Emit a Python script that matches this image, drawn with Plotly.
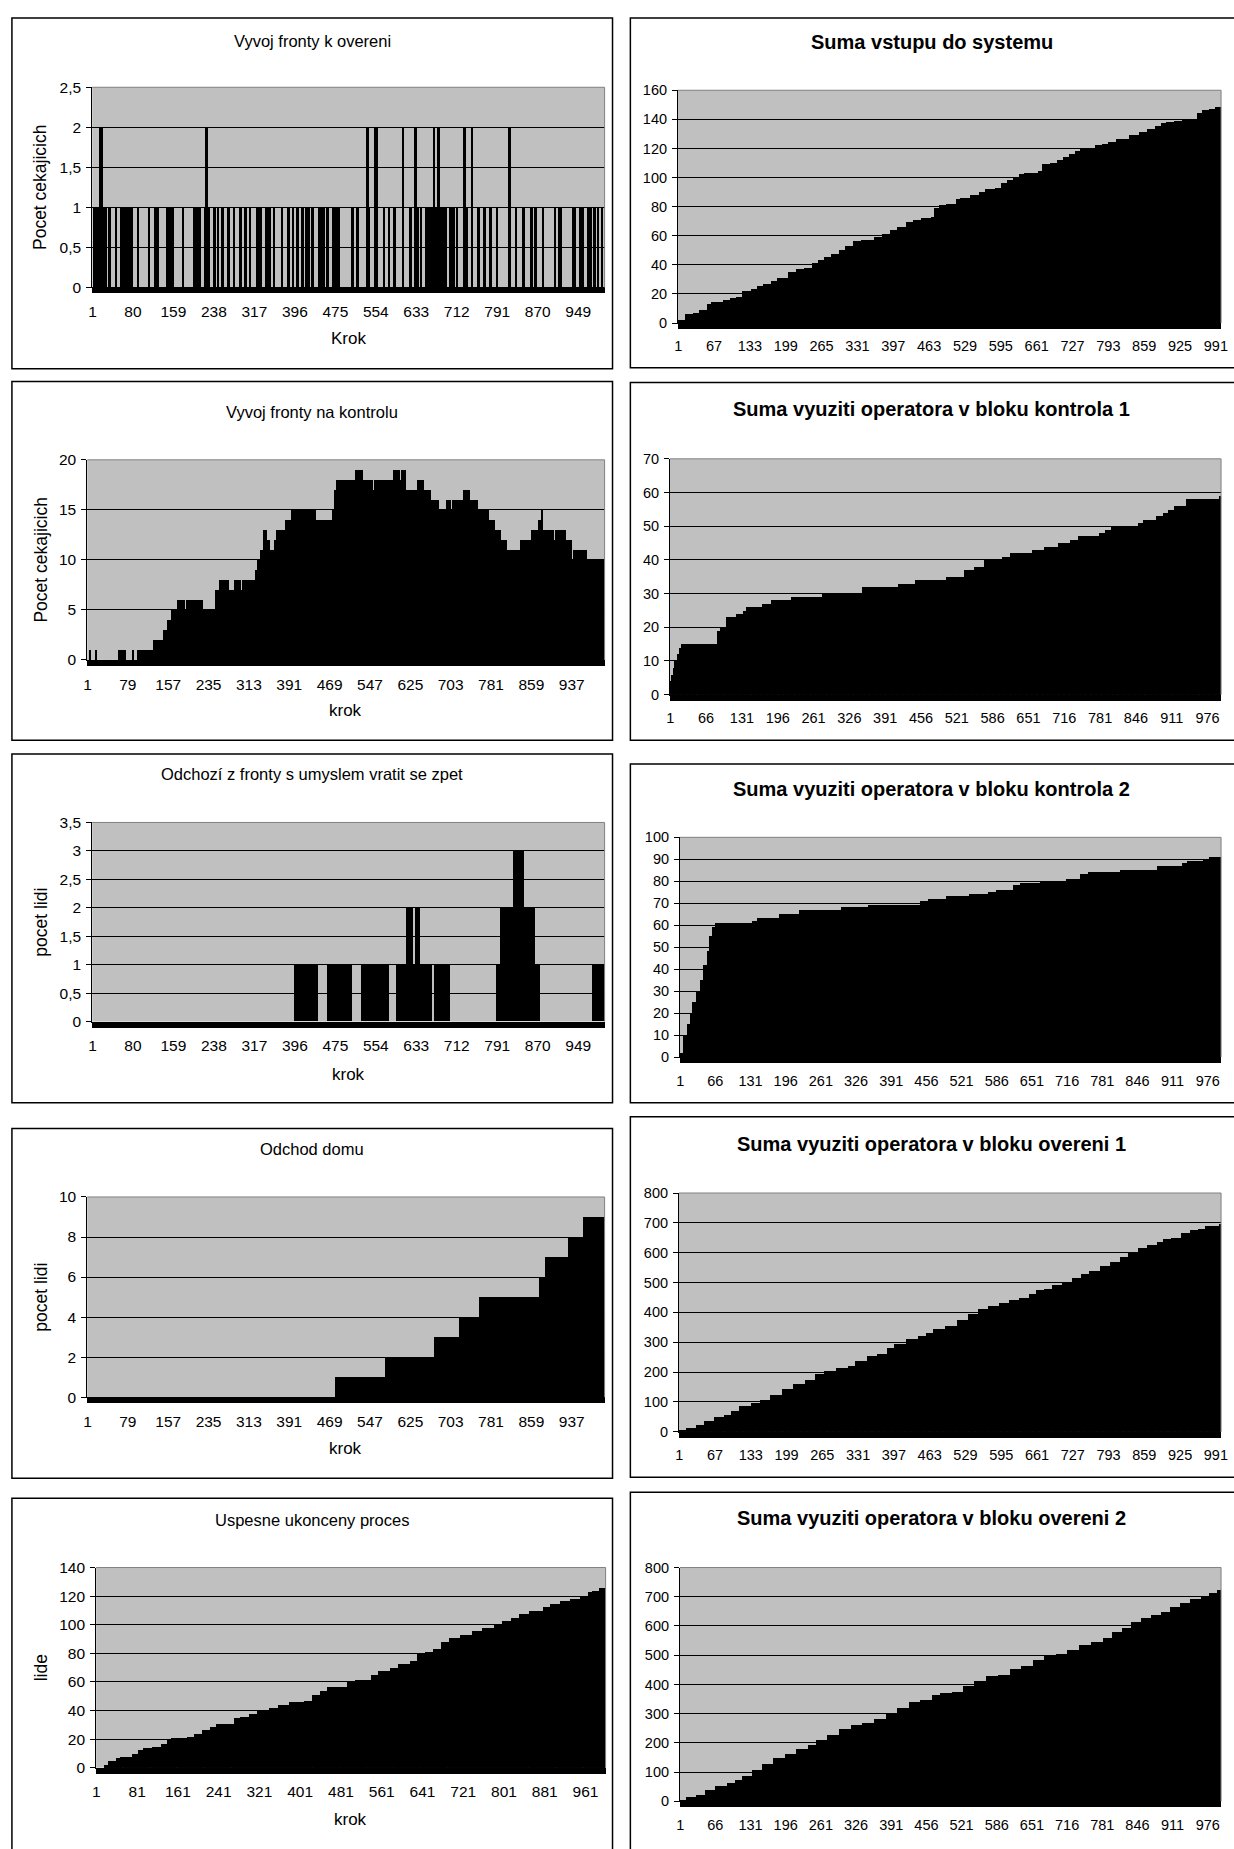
import numpy as np
import plotly.graph_objects as go

N = 1000
krok = np.arange(1, N + 1)  # categories: step numbers 1..1000

# ---------------- data ----------------
# 1) Vyvoj fronty k overeni : short spikes (start step, length, value)
q1_start = [4, 10, 16, 22, 27, 33, 46, 56, 60, 64, 67, 71, 77, 89, 111, 123, 127, 146, 151, 157,
            177, 199, 203, 209, 220, 222, 227, 239, 245, 254, 266, 277, 289, 299, 308, 322, 327, 340,
            346, 355, 370, 383, 392, 401, 409, 418, 422, 430, 444, 447, 451, 459, 470, 474, 480, 508,
            518, 537, 540, 552, 554, 556, 569, 579, 590, 606, 621, 631, 636, 642, 651, 655, 659, 664,
            667, 669, 673, 676, 680, 684, 689, 699, 705, 712, 726, 731, 741, 754, 766, 777, 790, 814,
            827, 842, 857, 865, 880, 903, 911, 915, 938, 941, 953, 957, 968, 972, 980, 987, 995]
q1_len = [3, 3, 6, 3, 3, 4, 3, 3, 3, 3, 4, 3, 3, 3, 3, 3, 3, 3, 3, 3,
          3, 3, 3, 3, 2, 5, 3, 3, 3, 3, 3, 3, 3, 3, 3, 3, 4, 3,
          4, 3, 3, 3, 3, 3, 4, 3, 3, 3, 3, 4, 3, 3, 4, 4, 5, 3,
          3, 3, 3, 2, 2, 3, 3, 3, 3, 3, 3, 3, 3, 3, 4, 4, 4, 3,
          2, 4, 3, 4, 4, 4, 3, 3, 3, 3, 3, 3, 3, 3, 3, 3, 3, 3,
          3, 3, 3, 3, 3, 3, 3, 3, 3, 3, 3, 3, 3, 3, 3, 3, 3]
q1_val = [1, 1, 2, 1, 1, 1, 1, 1, 1, 1, 1, 1, 1, 1, 1, 1, 1, 1, 1, 1,
          1, 1, 1, 1, 1, 2, 1, 1, 1, 1, 1, 1, 1, 1, 1, 1, 1, 1,
          1, 1, 1, 1, 1, 1, 1, 1, 1, 1, 1, 1, 1, 1, 1, 1, 1, 1,
          1, 2, 1, 2, 1, 2, 1, 1, 1, 2, 1, 2, 1, 1, 1, 1, 1, 1,
          2, 1, 1, 2, 1, 1, 1, 1, 1, 1, 2, 1, 2, 1, 1, 1, 1, 2,
          1, 1, 1, 1, 1, 1, 1, 1, 1, 1, 1, 1, 1, 1, 1, 1, 1]

# Remaining series: (step where value changes, new value)
q2_changes = [(1, 0), (6, 1), (8, 0), (18, 1), (20, 0), (61, 1), (76, 0), (88, 1), (90, 0), (99, 1),
              (129, 2), (148, 3), (156, 4), (165, 5), (175, 6), (190, 5), (193, 6), (224, 5), (250, 7),
              (258, 8), (275, 7), (286, 8), (298, 7), (301, 8), (326, 9), (331, 10), (337, 11), (343, 13),
              (348, 12), (354, 11), (363, 12), (367, 13), (384, 14), (396, 15), (443, 14), (476, 15),
              (480, 17), (484, 18), (520, 19), (533, 18), (552, 17), (556, 18), (594, 19), (605, 18),
              (609, 19), (616, 17), (639, 18), (652, 17), (665, 16), (680, 15), (695, 16), (703, 15),
              (707, 16), (729, 17), (741, 16), (756, 15), (778, 14), (788, 13), (801, 12), (812, 11),
              (839, 12), (861, 13), (873, 14), (879, 15), (882, 13), (903, 12), (907, 13), (926, 12),
              (937, 10), (941, 11), (967, 10)]

q3_changes = [(1, 0), (396, 1), (442, 0), (461, 1), (508, 0), (526, 1), (580, 0), (595, 1), (614, 2),
              (626, 1), (633, 2), (641, 1), (663, 0), (669, 1), (699, 0), (790, 1), (799, 2), (824, 3),
              (843, 2), (864, 1), (875, 0), (977, 1)]

q4_changes = [(1, 0), (482, 1), (578, 2), (673, 3), (721, 4), (760, 5), (876, 6), (887, 7), (932, 8),
              (961, 9)]

q5_changes = [(1, 0), (17, 2), (26, 5), (42, 7), (49, 8), (72, 10), (84, 13), (95, 14), (111, 15),
              (130, 17), (142, 20), (149, 21), (180, 22), (195, 24), (211, 27), (226, 29), (238, 31),
              (272, 35), (284, 36), (303, 38), (318, 40), (341, 42), (360, 44), (380, 46), (410, 47),
              (426, 51), (441, 54), (456, 57), (495, 60), (510, 62), (541, 65), (556, 68), (579, 70),
              (595, 73), (618, 75), (633, 80), (648, 81), (664, 83), (679, 88), (695, 91), (717, 93),
              (740, 96), (760, 98), (783, 101), (798, 103), (817, 105), (833, 108), (852, 110),
              (879, 113), (894, 115), (913, 117), (933, 118), (952, 120), (967, 123), (975, 124),
              (990, 126)]

q6_changes = [(1, 2), (15, 6), (30, 7), (40, 9), (55, 13), (62, 14), (84, 16), (98, 17), (109, 18),
              (119, 22), (137, 23), (148, 25), (159, 27), (173, 29), (184, 31), (205, 35), (220, 37),
              (234, 38), (248, 41), (259, 43), (270, 45), (284, 47), (299, 50), (309, 53), (324, 56),
              (338, 57), (363, 59), (378, 61), (392, 64), (406, 66), (421, 69), (435, 71), (449, 72),
              (467, 73), (474, 79), (482, 81), (496, 82), (514, 85), (521, 86), (539, 88), (557, 90),
              (568, 92), (586, 93), (596, 96), (607, 98), (618, 100), (629, 102), (639, 103),
              (665, 104), (672, 109), (686, 110), (700, 112), (711, 114), (722, 116), (733, 118),
              (743, 120), (769, 122), (783, 123), (794, 124), (808, 126), (833, 129), (851, 131),
              (866, 133), (880, 135), (891, 137), (901, 138), (916, 139), (930, 140), (957, 144),
              (966, 146), (980, 147), (991, 148)]

q7_changes = [(1, 4), (4, 6), (7, 8), (10, 10), (14, 12), (19, 14), (22, 15), (87, 19), (92, 20),
              (103, 23), (122, 24), (135, 25), (140, 26), (168, 27), (186, 28), (221, 29), (277, 30),
              (351, 32), (415, 33), (446, 34), (503, 35), (536, 37), (554, 38), (571, 40), (605, 41),
              (619, 42), (658, 43), (680, 44), (706, 45), (728, 46), (742, 47), (781, 48), (792, 49),
              (802, 50), (851, 51), (860, 52), (883, 53), (896, 54), (906, 55), (917, 56), (939, 58),
              (998, 59)]

q8_changes = [(1, 2), (8, 10), (15, 15), (20, 20), (25, 25), (31, 30), (38, 35), (44, 42), (51, 48),
              (56, 55), (61, 59), (67, 61), (135, 62), (145, 63), (185, 65), (221, 67), (300, 68),
              (350, 69), (446, 71), (461, 72), (493, 73), (536, 74), (572, 75), (586, 76), (618, 78),
              (631, 79), (668, 80), (715, 81), (741, 83), (756, 84), (815, 85), (884, 87), (930, 88),
              (939, 89), (969, 90), (980, 91)]

q9_changes = [(1, 3), (15, 12), (33, 22), (48, 35), (66, 48), (84, 55), (98, 68), (112, 85), (134, 95),
              (152, 105), (170, 122), (191, 142), (213, 160), (234, 172), (252, 192), (270, 203),
              (292, 215), (313, 222), (327, 238), (349, 253), (367, 260), (385, 280), (399, 295),
              (421, 310), (442, 322), (457, 330), (471, 345), (492, 355), (514, 375), (535, 395),
              (553, 410), (571, 420), (593, 430), (611, 440), (629, 448), (647, 460), (661, 475),
              (675, 480), (690, 492), (708, 500), (726, 515), (744, 527), (758, 540), (779, 555),
              (797, 568), (815, 585), (830, 600), (848, 615), (865, 625), (883, 635), (894, 645),
              (909, 650), (927, 665), (944, 675), (959, 680), (973, 690), (998, 695)]

q10_changes = [(1, 5), (13, 18), (31, 25), (49, 40), (67, 55), (88, 65), (103, 75), (117, 90), (135, 110),
               (153, 130), (174, 150), (196, 165), (217, 180), (239, 195), (253, 210), (274, 230),
               (296, 250), (317, 262), (339, 270), (360, 285), (382, 300), (403, 320), (425, 340),
               (446, 350), (468, 365), (482, 372), (504, 375), (525, 395), (546, 415), (568, 430),
               (589, 435), (611, 455), (632, 465), (654, 485), (675, 500), (697, 505), (718, 520),
               (740, 535), (761, 548), (783, 560), (801, 580), (819, 595), (836, 615), (854, 630),
               (872, 640), (890, 650), (908, 665), (926, 680), (944, 695), (965, 700), (980, 715),
               (995, 725)]

# tick labels
x_ticks_79 = [1, 80, 159, 238, 317, 396, 475, 554, 633, 712, 791, 870, 949]
x_ticks_78 = [1, 79, 157, 235, 313, 391, 469, 547, 625, 703, 781, 859, 937]
x_ticks_80 = [1, 81, 161, 241, 321, 401, 481, 561, 641, 721, 801, 881, 961]
x_ticks_66 = [1, 67, 133, 199, 265, 331, 397, 463, 529, 595, 661, 727, 793, 859, 925, 991]
x_ticks_65 = [1, 66, 131, 196, 261, 326, 391, 456, 521, 586, 651, 716, 781, 846, 911, 976]

y_vals_1 = [0, 0.5, 1, 1.5, 2, 2.5]
y_text_1 = ["0", "0,5", "1", "1,5", "2", "2,5"]
y_vals_2 = [0, 5, 10, 15, 20]
y_vals_3 = [0, 0.5, 1, 1.5, 2, 2.5, 3, 3.5]
y_text_3 = ["0", "0,5", "1", "1,5", "2", "2,5", "3", "3,5"]
y_vals_4 = [0, 2, 4, 6, 8, 10]
y_vals_5 = [0, 20, 40, 60, 80, 100, 120, 140]
y_vals_6 = [0, 20, 40, 60, 80, 100, 120, 140, 160]
y_vals_7 = [0, 10, 20, 30, 40, 50, 60, 70]
y_vals_8 = [0, 10, 20, 30, 40, 50, 60, 70, 80, 90, 100]
y_vals_9 = [0, 100, 200, 300, 400, 500, 600, 700, 800]
y_vals_10 = [0, 100, 200, 300, 400, 500, 600, 700, 800]


def hold(changes):
    y = np.zeros(N)
    for s, v in changes:
        y[s - 1:] = v
    return y


def spikes(starts, lens, vals):
    y = np.zeros(N)
    for s, l, v in zip(starts, lens, vals):
        y[s - 1:s - 1 + l] = np.maximum(y[s - 1:s - 1 + l], v)
    return y


W, H = 1234, 1849
FONT = "Arial, Liberation Sans, sans-serif"

panels = [
    dict(y=spikes(q1_start, q1_len, q1_val), title="Vyvoj fronty k overeni", bold=False,
         xt="Krok", yt="Pocet cekajicich", xticks=x_ticks_79, yv=y_vals_1, ytxt=y_text_1,
         plot=(89, 606, 79, 281), border=(8, 614, 9, 363), ty=32, xty=333),
    dict(y=hold(q2_changes), title="Vyvoj fronty na kontrolu", bold=False,
         xt="krok", yt="Pocet cekajicich", xticks=x_ticks_78, yv=y_vals_2, ytxt=None,
         plot=(84, 606, 455, 657), border=(8, 614, 376, 738), ty=407, xty=708),
    dict(y=hold(q3_changes), title="Odchozí z fronty s umyslem vratit se zpet", bold=False,
         xt="krok", yt="pocet lidi", xticks=x_ticks_79, yv=y_vals_3, ytxt=y_text_3,
         plot=(89, 606, 821, 1022), border=(8, 614, 752, 1104), ty=772, xty=1075),
    dict(y=hold(q4_changes), title="Odchod domu", bold=False,
         xt="krok", yt="pocet lidi", xticks=x_ticks_78, yv=y_vals_4, ytxt=None,
         plot=(84, 606, 1199, 1401), border=(8, 614, 1130, 1483), ty=1151, xty=1453),
    dict(y=hold(q5_changes), title="Uspesne ukonceny proces", bold=False,
         xt="krok", yt="lide", xticks=x_ticks_80, yv=y_vals_5, ytxt=None,
         plot=(93, 607, 1573, 1775), border=(8, 614, 1503, 1870), ty=1525, xty=1827),
    dict(y=hold(q6_changes), title="Suma vstupu do systemu", bold=True,
         xt=None, yt=None, xticks=x_ticks_66, yv=y_vals_6, ytxt=None,
         plot=(680, 1228, 82, 317), border=(632, 1245, 9, 362), ty=33, xty=None),
    dict(y=hold(q7_changes), title="Suma vyuziti operatora v bloku kontrola 1", bold=True,
         xt=None, yt=None, xticks=x_ticks_65, yv=y_vals_7, ytxt=None,
         plot=(672, 1228, 454, 692), border=(632, 1245, 377, 738), ty=404, xty=None),
    dict(y=hold(q8_changes), title="Suma vyuziti operatora v bloku kontrola 2", bold=True,
         xt=None, yt=None, xticks=x_ticks_65, yv=y_vals_8, ytxt=None,
         plot=(682, 1228, 836, 1058), border=(632, 1245, 762, 1104), ty=787, xty=None),
    dict(y=hold(q9_changes), title="Suma vyuziti operatora v bloku overeni 1", bold=True,
         xt=None, yt=None, xticks=x_ticks_66, yv=y_vals_9, ytxt=None,
         plot=(681, 1228, 1195, 1436), border=(632, 1245, 1118, 1482), ty=1146, xty=None),
    dict(y=hold(q10_changes), title="Suma vyuziti operatora v bloku overeni 2", bold=True,
         xt=None, yt=None, xticks=x_ticks_65, yv=y_vals_10, ytxt=None,
         plot=(682, 1228, 1573, 1809), border=(632, 1245, 1497, 1870), ty=1523, xty=None),
]

fig = go.Figure()
layout = dict(width=W, height=H, margin=dict(l=0, r=0, t=0, b=0),
              paper_bgcolor="white", plot_bgcolor="#C0C0C0", showlegend=False,
              bargap=0, font=dict(family=FONT, color="black"))
shapes, annotations = [], []


def px(x):
    return x / W


def py(y):
    return 1 - y / H


for i, p in enumerate(panels, start=1):
    sfx = "" if i == 1 else str(i)
    xa, ya = "x" + sfx, "y" + sfx
    x0, x1, y0, y1 = p["plot"]
    left = i <= 5
    tick_size = 15.5 if left else 14.5
    fig.add_trace(go.Bar(x=krok, y=p["y"], xaxis=xa, yaxis=ya,
                         marker=dict(color="black", line=dict(width=0)),
                         hoverinfo="x+y"))
    layout["xaxis" + sfx] = dict(
        domain=[px(x0), px(x1)], anchor=ya, range=[0.5, N + 0.5],
        tickmode="array", tickvals=p["xticks"], ticktext=[str(v) for v in p["xticks"]],
        ticks="outside", ticklen=5, tickcolor="black", showline=True, linecolor="black",
        linewidth=1, showgrid=False, zeroline=False, ticklabelstandoff=5,
        ticklabeloverflow="allow",
        tickfont=dict(size=tick_size, family=FONT, color="black"),
        minor=dict(tickmode="linear", tick0=1, dtick=1, ticks="outside", ticklen=5,
                   tickcolor="black", tickwidth=1, showgrid=False),
    )
    ytxt = p["ytxt"] if p["ytxt"] is not None else [str(v) for v in p["yv"]]
    layout["yaxis" + sfx] = dict(
        domain=[py(y1), py(y0)], anchor=xa, range=[0, p["yv"][-1]],
        tickmode="array", tickvals=p["yv"], ticktext=ytxt,
        ticks="outside", ticklen=5, tickcolor="black", showline=True, linecolor="black",
        linewidth=1, showgrid=True, gridcolor="black", gridwidth=1, zeroline=False,
        ticklabelstandoff=2,
        tickfont=dict(size=tick_size, family=FONT, color="black"),
    )
    # grey plot-area border (top and right)
    shapes.append(dict(type="line", xref=xa + " domain", yref=ya + " domain",
                       x0=0, x1=1, y0=1, y1=1, line=dict(color="#808080", width=1), layer="above"))
    shapes.append(dict(type="line", xref=xa + " domain", yref=ya + " domain",
                       x0=1, x1=1, y0=0, y1=1, line=dict(color="#808080", width=1), layer="above"))
    # chart border
    bx0, bx1, by0, by1 = p["border"]
    shapes.append(dict(type="rect", xref="paper", yref="paper",
                       x0=px(bx0), x1=px(bx1), y0=py(by1), y1=py(by0),
                       line=dict(color="black", width=1.5), fillcolor="rgba(0,0,0,0)", layer="below"))
    # title
    if p["bold"]:
        annotations.append(dict(text="<b>" + p["title"] + "</b>", xref="paper", yref="paper",
                                x=px((bx0 + min(bx1, 1240)) / 2), y=py(p["ty"]),
                                xanchor="center", yanchor="middle", showarrow=False,
                                font=dict(size=20, family=FONT, color="black")))
    else:
        annotations.append(dict(text=p["title"], xref="paper", yref="paper",
                                x=px((bx0 + bx1) / 2), y=py(p["ty"]),
                                xanchor="center", yanchor="middle", showarrow=False,
                                font=dict(size=16.5, family=FONT, color="black")))
    if p["xt"]:
        annotations.append(dict(text=p["xt"], xref="paper", yref="paper",
                                x=px((x0 + x1) / 2), y=py(p["xty"]),
                                xanchor="center", yanchor="middle", showarrow=False,
                                font=dict(size=17, family=FONT, color="black")))
    if p["yt"]:
        annotations.append(dict(text=p["yt"], xref="paper", yref="paper",
                                x=px(37), y=py((y0 + y1) / 2), textangle=-90,
                                xanchor="center", yanchor="middle", showarrow=False,
                                font=dict(size=17.5, family=FONT, color="black")))

layout["shapes"] = shapes
layout["annotations"] = annotations
fig.update_layout(**layout)
fig.write_html("out.html", config={"displayModeBar": False},
               post_script="document.body.style.margin='0';document.body.style.padding='0';")
